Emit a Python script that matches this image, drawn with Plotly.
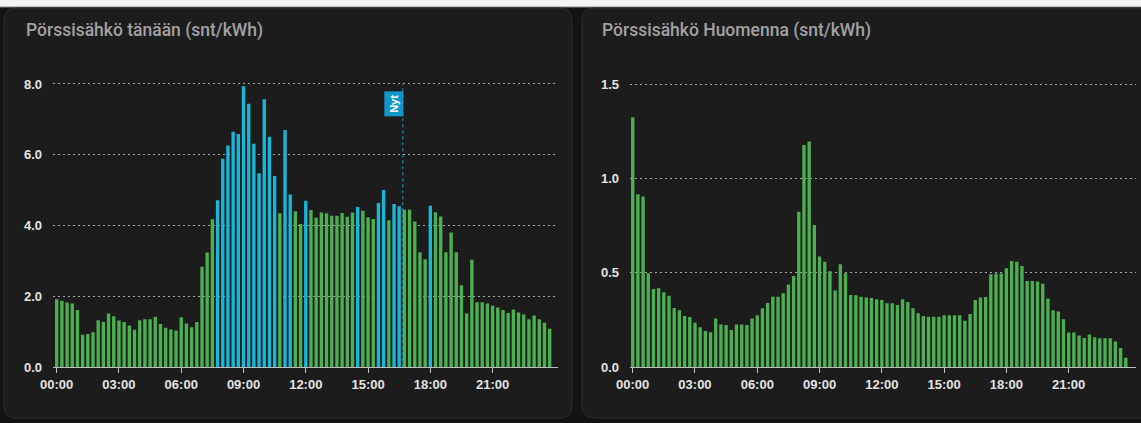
import plotly.graph_objects as go

W, H = 1141, 423

# 15 minute slots
times = [f"{h:02d}:{m:02d}" for h in range(24) for m in (0, 15, 30, 45)]
tick_times = ["00:00", "03:00", "06:00", "09:00", "12:00", "15:00", "18:00", "21:00"]

today_prices = [
    1.92, 1.88, 1.83, 1.80, 1.62, 0.92, 0.94, 0.99, 1.33, 1.28, 1.52, 1.44,
    1.32, 1.28, 1.18, 1.06, 1.33, 1.36, 1.36, 1.43, 1.22, 1.12, 1.07, 1.04,
    1.41, 1.24, 1.13, 1.28, 2.84, 3.24, 4.18, 4.72, 5.89, 6.26, 6.65, 6.59,
    7.94, 7.44, 6.31, 5.48, 7.57, 6.51, 5.40, 4.35, 6.70, 4.88, 4.41, 4.05,
    4.70, 4.44, 4.22, 4.37, 4.35, 4.28, 4.28, 4.36, 4.25, 4.37, 4.53, 4.42,
    4.24, 4.19, 4.64, 5.01, 4.15, 4.61, 4.55, 4.45, 4.45, 4.12, 3.25, 3.05,
    4.56, 4.38, 4.26, 3.25, 3.81, 3.25, 2.32, 1.52, 3.04, 1.84, 1.84, 1.80,
    1.74, 1.69, 1.62, 1.53, 1.63, 1.55, 1.49, 1.36, 1.46, 1.36, 1.26, 1.09,
]

# slots drawn in the highlight colour
today_marked = [
    "07:45", "08:00", "08:15", "08:30", "08:45", "09:00", "09:15", "09:30",
    "09:45", "10:00", "10:15", "10:30", "11:00", "11:15", "12:00", "14:30",
    "15:30", "15:45", "16:15", "16:30", "18:00",
]

tomorrow_prices = [
    1.324, 0.916, 0.904, 0.498, 0.415, 0.418, 0.397, 0.379, 0.314, 0.302, 0.272, 0.266,
    0.236, 0.212, 0.192, 0.185, 0.258, 0.226, 0.224, 0.198, 0.226, 0.226, 0.224, 0.259,
    0.275, 0.312, 0.341, 0.374, 0.374, 0.392, 0.438, 0.484, 0.824, 1.177, 1.195, 0.754,
    0.586, 0.559, 0.508, 0.406, 0.545, 0.498, 0.383, 0.381, 0.374, 0.369, 0.367, 0.360,
    0.356, 0.339, 0.339, 0.330, 0.360, 0.346, 0.312, 0.286, 0.272, 0.268, 0.268, 0.268,
    0.275, 0.275, 0.275, 0.275, 0.247, 0.282, 0.356, 0.369, 0.372, 0.492, 0.496, 0.496,
    0.524, 0.563, 0.559, 0.536, 0.457, 0.457, 0.454, 0.443, 0.364, 0.302, 0.296, 0.254,
    0.184, 0.184, 0.169, 0.155, 0.173, 0.159, 0.154, 0.154, 0.154, 0.136, 0.102, 0.051,
]

now_pos = 66.7  # "Nyt" marker, in slot units

GREEN = "#4caf50"
CYAN = "#19b6d8"


def px_x(p):
    return p / W


def px_y(p):
    return 1 - p / H


def card(x0, y0, x1, y1, r=12):
    # rounded rect in pixels -> paper path
    pts = [
        ("M", x0 + r, y0), ("L", x1 - r, y0), ("Q", x1, y0, x1, y0 + r),
        ("L", x1, y1 - r), ("Q", x1, y1, x1 - r, y1), ("L", x0 + r, y1),
        ("Q", x0, y1, x0, y1 - r), ("L", x0, y0 + r), ("Q", x0, y0, x0 + r, y0),
    ]
    out = []
    for p in pts:
        cmd, vals = p[0], p[1:]
        coords = []
        for i in range(0, len(vals), 2):
            coords.append(f"{px_x(vals[i]):.5f},{px_y(vals[i + 1]):.5f}")
        out.append(cmd + " " + " ".join(coords))
    return dict(type="path", xref="paper", yref="paper", path=" ".join(out) + " Z",
                fillcolor="#1c1c1c", line=dict(color="#2c2c2c", width=1), layer="below")


fig = go.Figure()

fig.add_trace(go.Bar(
    x=times, y=today_prices,
    marker=dict(color=[CYAN if t in today_marked else GREEN for t in times], line_width=0),
    xaxis="x", yaxis="y", hoverinfo="x+y",
))
fig.add_trace(go.Bar(
    x=times, y=tomorrow_prices,
    marker=dict(color=GREEN, line_width=0),
    xaxis="x2", yaxis="y2", hoverinfo="x+y",
))

tickfont = dict(family="Arial", size=13, color="#e4e4e4", weight="bold")

# y=0 sits at 367.3px, top gridline at 84px; a bit of headroom so it gets drawn
y0_px, ytop_px = 367.3, 84
ymax1, ymax2 = 8.1, 1.52
top1 = y0_px - (y0_px - ytop_px) * ymax1 / 8
top2 = y0_px - (y0_px - ytop_px) * ymax2 / 1.5

xcommon = dict(
    type="category", tickvals=tick_times, ticktext=tick_times, tickfont=tickfont,
    showline=True, linecolor="#bdbdbd", linewidth=1, ticks="outside", ticklen=5,
    tickcolor="#bdbdbd", showgrid=False, zeroline=False, fixedrange=True,
    automargin=False,
)
ycommon = dict(
    tickfont=tickfont, tickformat=".1f", showgrid=True, gridcolor="#a8a8a8",
    griddash="2px,3px", gridwidth=1.3, zeroline=False, showline=False, ticks="",
    ticklabelstandoff=10, fixedrange=True, automargin=False,
)

fig.update_layout(
    width=W, height=H,
    margin=dict(l=0, r=0, t=0, b=0, pad=0),
    paper_bgcolor="#131313",
    plot_bgcolor="rgba(0,0,0,0)",
    showlegend=False,
    bargap=0.35,
    xaxis=dict(xcommon, domain=[px_x(53), px_x(558)], range=[-0.71, 96.6], anchor="y"),
    yaxis=dict(ycommon, domain=[px_y(y0_px), px_y(top1)], range=[0, ymax1],
               tickvals=[0, 2, 4, 6, 8], anchor="x"),
    xaxis2=dict(xcommon, domain=[px_x(630), px_x(1136)], range=[-0.52, 96.97], anchor="y2"),
    yaxis2=dict(ycommon, domain=[px_y(y0_px), px_y(top2)], range=[0, ymax2],
                tickvals=[0, 0.5, 1.0, 1.5], anchor="x2"),
)

shapes = [
    dict(type="rect", xref="paper", yref="paper", x0=0, x1=1, y0=px_y(7), y1=1,
         fillcolor="#f3f3f3", line_width=0, layer="below"),
    dict(type="line", xref="paper", yref="paper", x0=0, x1=1, y0=px_y(7), y1=px_y(7),
         line=dict(color="#8a8a8a", width=1), layer="below"),
    card(4, 8, 572, 418),
    card(582, 8, 1160, 418),
    dict(type="line", xref="x", yref="y", x0=now_pos, x1=now_pos, y0=0, y1=8,
         line=dict(color="#1a9fd0", width=1, dash="dot"), layer="below"),
]
fig.update_layout(shapes=shapes)

fig.add_annotation(x=px_x(24), y=px_y(31), xref="paper", yref="paper",
                   text="Pörssisähkö tänään (snt/kWh)", showarrow=False,
                   xanchor="left", yanchor="middle",
                   font=dict(family="Roboto", size=17.5, color="#a2a2a2", weight=500))
fig.add_annotation(x=px_x(600), y=px_y(31), xref="paper", yref="paper",
                   text="Pörssisähkö Huomenna (snt/kWh)", showarrow=False,
                   xanchor="left", yanchor="middle",
                   font=dict(family="Roboto", size=17.5, color="#a2a2a2", weight=500))
fig.add_annotation(x=now_pos, y=8, xref="x", yref="y", text="Nyt", showarrow=False,
                   textangle=-90, xanchor="right", yanchor="top", yshift=-7, xshift=1,
                   bgcolor="#1296c8", borderpad=3,
                   font=dict(family="Arial", size=11, color="white", weight="bold"))

fig.write_html("out.html", config={"displayModeBar": False},
               post_script="document.body.style.margin='0';document.body.style.overflow='hidden';")
